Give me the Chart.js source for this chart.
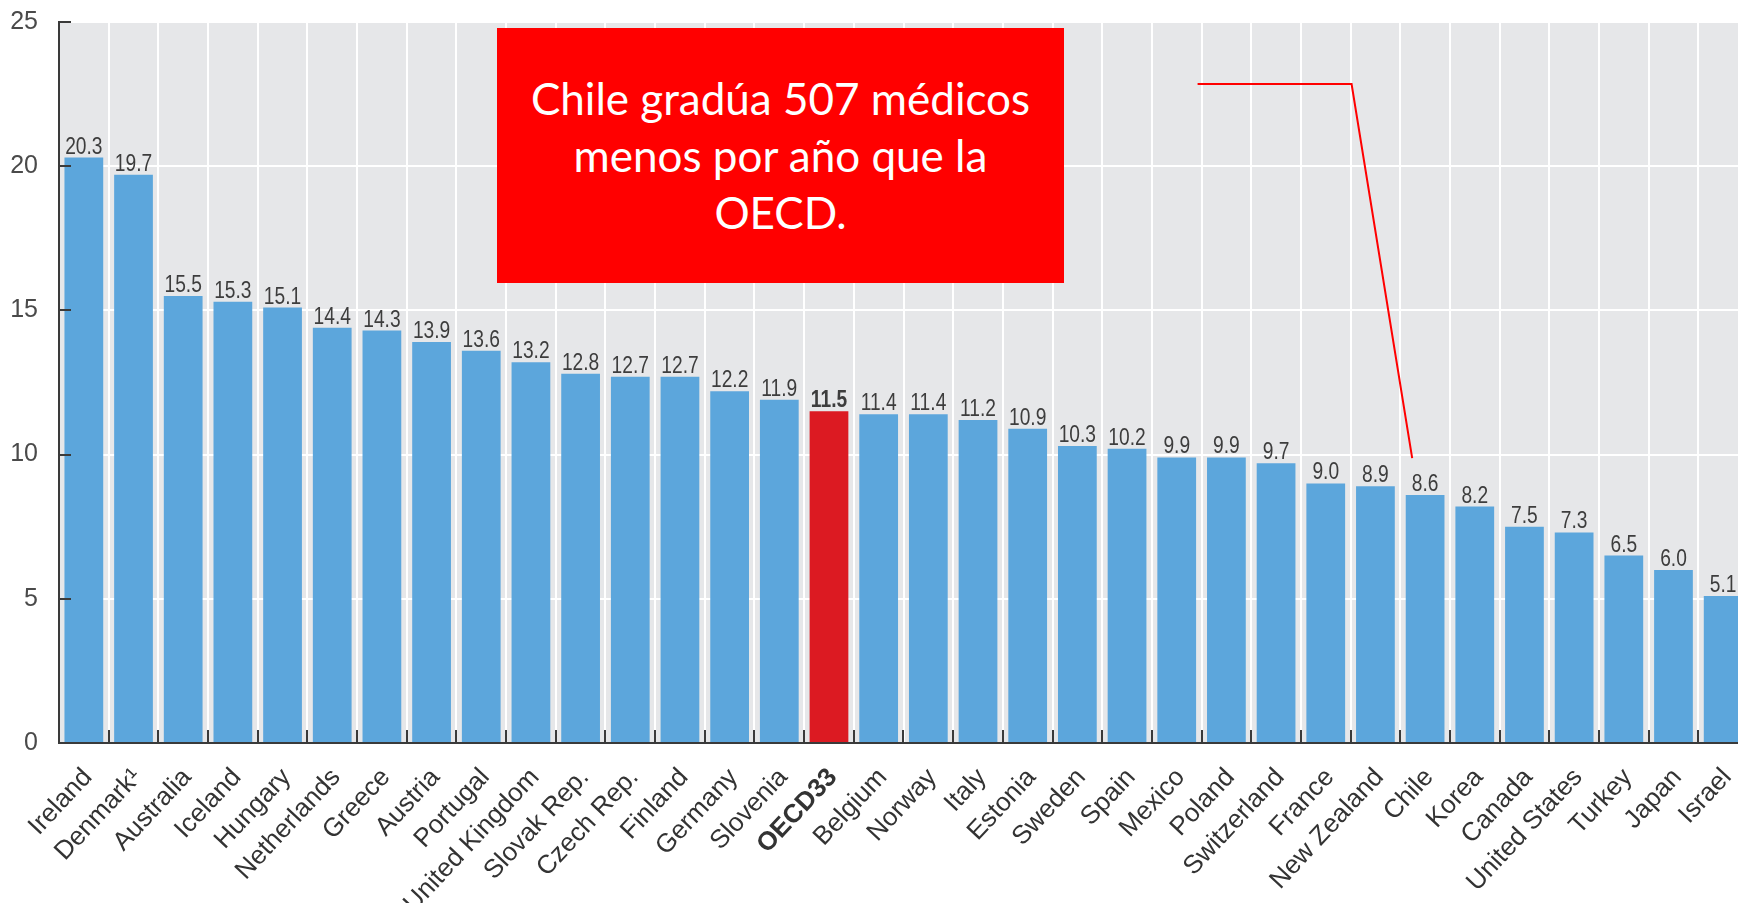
<!DOCTYPE html>
<html>
<head>
<meta charset="utf-8">
<script src="https://cdn.jsdelivr.net/npm/chart.js@4.4.1/dist/chart.umd.min.js"></script>
<style>
  html, body { margin: 0; padding: 0; background: #fff; overflow: hidden; }
  #wrap { position: relative; width: 1750px; height: 903px; }
  #note {
    position: absolute; left: 497px; top: 28px; width: 567px; height: 255px;
    background: #ff0000; color: #fff;
    font-family: Lato, "Open Sans", sans-serif; font-size: 44px; line-height: 57px;
    text-align: center; display: flex; align-items: center; justify-content: center;
  }
</style>
</head>
<body>
<div id="wrap">
  <canvas id="chart"></canvas>
  <div id="note"><div>Chile gradúa 507 médicos<br>menos por año que la<br>OECD.</div></div>
</div>
<script>
const countries = ['Ireland', 'Denmark¹', 'Australia', 'Iceland', 'Hungary', 'Netherlands', 'Greece',
  'Austria', 'Portugal', 'United Kingdom', 'Slovak Rep.', 'Czech Rep.', 'Finland', 'Germany',
  'Slovenia', 'OECD33', 'Belgium', 'Norway', 'Italy', 'Estonia', 'Sweden', 'Spain', 'Mexico',
  'Poland', 'Switzerland', 'France', 'New Zealand', 'Chile', 'Korea', 'Canada', 'United States',
  'Turkey', 'Japan', 'Israel'];
const graduates = [20.3, 19.7, 15.5, 15.3, 15.1, 14.4, 14.3, 13.9, 13.6, 13.2, 12.8, 12.7, 12.7, 12.2,
  11.9, 11.5, 11.4, 11.4, 11.2, 10.9, 10.3, 10.2, 9.9, 9.9, 9.7, 9.0, 8.9, 8.6, 8.2, 7.5, 7.3,
  6.5, 6.0, 5.1];
const highlight = 'OECD33';
const yTicks = [0, 5, 10, 15, 20, 25];
// callout line from the note box down to Chile, in (category index, value) units
const calloutX = [22.42, 25.52, 26.74];
const calloutY = [22.85, 22.85, 9.88];

const sans = '"Liberation Sans", Arial, sans-serif';

const plotBackground = {
  id: 'plotBackground',
  beforeDraw(chart) {
    const { ctx, chartArea: a } = chart;
    ctx.save();
    ctx.fillStyle = '#e6e7e9';
    ctx.fillRect(a.left, a.top, a.right - a.left, a.bottom - a.top);
    ctx.restore();
  }
};

const innerTicks = {
  id: 'innerTicks',
  afterDraw(chart) {
    const { ctx, scales: { x, y } } = chart;
    const step = x.getPixelForValue(1) - x.getPixelForValue(0);
    ctx.save();
    ctx.strokeStyle = '#3a3a3a';
    ctx.lineWidth = 2;
    ctx.beginPath();
    for (let i = 1; i < countries.length; i++) {
      const px = Math.round(x.getPixelForValue(i) - step / 2);
      ctx.moveTo(px, y.bottom);
      ctx.lineTo(px, y.bottom - 13);
    }
    yTicks.forEach(v => {
      if (v === 0) return;
      const py = Math.round(y.getPixelForValue(v));
      ctx.moveTo(x.left, py);
      ctx.lineTo(x.left + 12, py);
    });
    ctx.stroke();
    ctx.restore();
  }
};

// value above each bar, narrow like the original
const valueLabels = {
  id: 'valueLabels',
  afterDatasetsDraw(chart) {
    const { ctx } = chart;
    const meta = chart.getDatasetMeta(0);
    ctx.save();
    ctx.textAlign = 'center';
    ctx.textBaseline = 'alphabetic';
    ctx.fillStyle = '#3d3d3d';
    meta.data.forEach((bar, i) => {
      ctx.save();
      ctx.translate(bar.x, bar.y - 4);
      ctx.scale(0.8, 1);
      ctx.font = (countries[i] === highlight ? 'bold ' : '') + '24px ' + sans;
      ctx.fillText(graduates[i].toFixed(1), 0, 0);
      ctx.restore();
    });
    ctx.restore();
  }
};

// slanted country names under the axis
const countryLabels = {
  id: 'countryLabels',
  afterDraw(chart) {
    const { ctx, scales: { x, y } } = chart;
    ctx.save();
    ctx.fillStyle = '#333333';
    ctx.textAlign = 'right';
    ctx.textBaseline = 'middle';
    countries.forEach((c, i) => {
      ctx.save();
      ctx.translate(x.getPixelForValue(i) + 4, y.bottom + 30);
      ctx.rotate(-47 * Math.PI / 180);
      ctx.font = (c === highlight ? 'bold ' : '') + '26px ' + sans;
      ctx.fillText(c, 0, 0);
      ctx.restore();
    });
    ctx.restore();
  }
};

const callout = {
  id: 'callout',
  afterDraw(chart) {
    const { ctx, scales: { x, y } } = chart;
    const step = x.getPixelForValue(1) - x.getPixelForValue(0);
    const x0 = x.getPixelForValue(0);
    ctx.save();
    ctx.strokeStyle = '#ff0000';
    ctx.lineWidth = 2;
    ctx.beginPath();
    calloutX.forEach((v, i) => {
      const px = x0 + v * step;
      const py = y.getPixelForValue(calloutY[i]);
      if (i === 0) ctx.moveTo(px, py); else ctx.lineTo(px, py);
    });
    ctx.stroke();
    ctx.restore();
  }
};

new Chart(document.getElementById('chart').getContext('2d'), {
  type: 'bar',
  data: {
    labels: countries,
    datasets: [{
      data: graduates,
      backgroundColor: countries.map(c => c === highlight ? '#dc1a22' : '#5ca6dc'),
      categoryPercentage: 1,
      barPercentage: 0.78
    }]
  },
  options: {
    responsive: true,
    maintainAspectRatio: false,
    animation: false,
    layout: { padding: { top: 22, left: 0, right: 2, bottom: 0 } },
    plugins: { legend: { display: false }, tooltip: { enabled: false } },
    scales: {
      x: {
        grid: { color: '#ffffff', lineWidth: 2, drawTicks: false, offset: true },
        border: { display: true, color: '#3a3a3a', width: 2 },
        ticks: { display: false },
        afterFit(s) { s.height = 160; s.paddingLeft = 0; s.paddingRight = 0; }
      },
      y: {
        min: 0, max: 25,
        afterBuildTicks(s) { s.ticks = yTicks.map(v => ({ value: v })); },
        ticks: { color: '#4a4a4a', font: { family: sans, size: 25 }, padding: 21 },
        grid: { color: '#ffffff', lineWidth: 2, drawTicks: false },
        border: { display: true, color: '#3a3a3a', width: 2 },
        afterFit(s) { s.width = 59; s.paddingTop = 0; s.paddingBottom = 0; }
      }
    }
  },
  plugins: [plotBackground, innerTicks, valueLabels, countryLabels, callout]
});
</script>
</body>
</html>
